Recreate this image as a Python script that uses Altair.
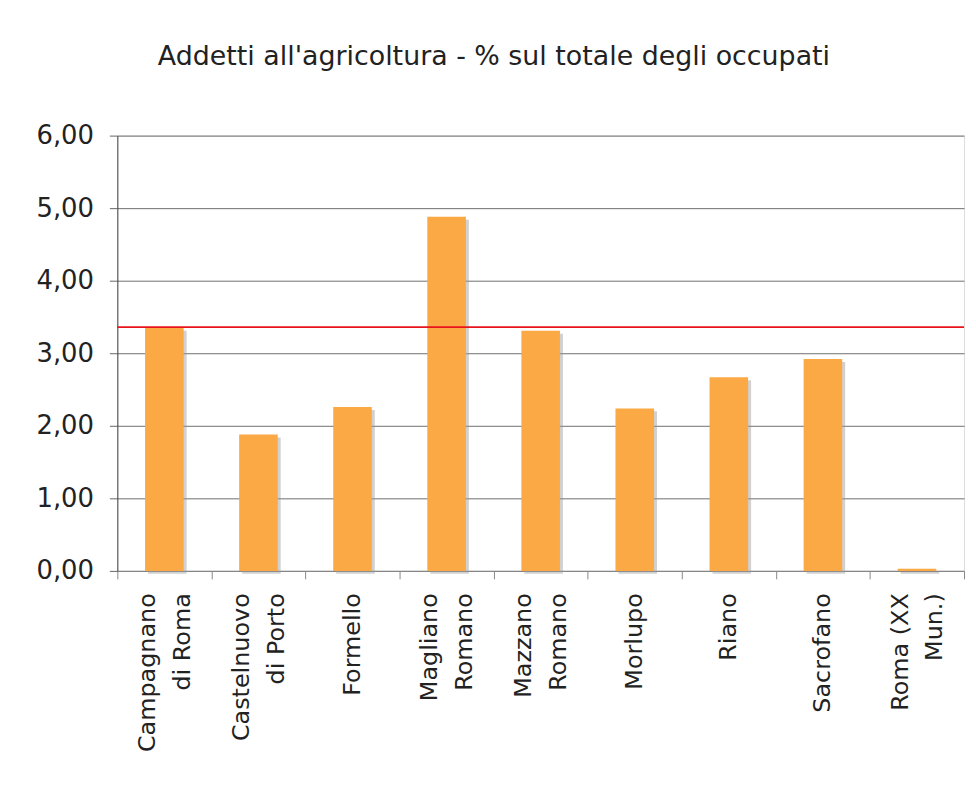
import altair as alt
import pandas as pd

comuni = [
    "Campagnano|di Roma",
    "Castelnuovo|di Porto",
    "Formello",
    "Magliano|Romano",
    "Mazzano|Romano",
    "Morlupo",
    "Riano",
    "Sacrofano",
    "Roma (XX|Mun.)",
]
valori = [3.35, 1.88, 2.26, 4.88, 3.31, 2.24, 2.67, 2.92, 0.03]
media = 3.36
titolo = "Addetti all'agricoltura - % sul totale degli occupati"

df = pd.DataFrame({"comune": comuni, "valore": valori})
df_media = pd.DataFrame({"media": [media]})

FONT = "DejaVu Sans"

x_enc = alt.X(
    "comune:N",
    sort=None,
    title=None,
    scale=alt.Scale(paddingInner=0, paddingOuter=0),
    axis=alt.Axis(
        labelAngle=-90,
        labelAlign="right",
        labelBaseline="middle",
        labelExpr="split(datum.label, '|')",
        labelFontSize=24,
        labelFont=FONT,
        labelColor="#222222",
        labelLineHeight=35,
        labelPadding=14,
        labelOffset={"condition": {"test": "indexof(datum.label, '|') >= 0", "value": -17}, "value": 0},
        tickBand="extent",
        tickSize=8,
        tickColor="#888888",
        domainColor="#888888",
        grid=False,
        labelLimit=400,
    ),
)
y_scale = alt.Scale(domain=[0, 6], nice=False)
y_axis = alt.Axis(
    values=[0, 1, 2, 3, 4, 5, 6],
    labelExpr="replace(format(datum.value, '.2f'), '.', ',')",
    labelFontSize=26,
    labelFont=FONT,
    labelColor="#222222",
    labelPadding=16,
    tickSize=8,
    tickColor="#666666",
    domainColor="#444444",
    gridColor="#6f6f6f",
    grid=True,
)

shadow = alt.Chart(df).mark_bar(
    color="#9a9a9a", opacity=0.45, xOffset=3, yOffset=3, width=alt.RelativeBandSize(0.41)
).encode(
    x=x_enc,
    y=alt.Y("valore:Q", scale=y_scale, axis=y_axis, title=None),
)
bars = alt.Chart(df).mark_bar(color="#FAA944", width=alt.RelativeBandSize(0.41)).encode(
    x=x_enc,
    y=alt.Y("valore:Q", scale=y_scale, axis=y_axis, title=None),
)
rule = alt.Chart(df_media).mark_rule(color="#E8141C", strokeWidth=1.8).encode(
    y=alt.Y("media:Q", scale=y_scale)
)

chart = (
    alt.layer(shadow, bars, rule)
    .properties(
        width=852,
        height=438,
        title=alt.TitleParams(
            text=titolo,
            font=FONT,
            fontSize=27,
            fontWeight="normal",
            color="#222222",
            anchor="middle",
            frame="group",
            dx=-47,
            offset=52,
        ),
        autosize=alt.AutoSizeParams(type="none"),
        padding={"left": 110, "top": 126, "right": 4, "bottom": 205},
    )
    .configure_view(stroke="#999999", strokeWidth=1.5)
    .configure(background="white")
)

chart.save("out.html", embed_options={"renderer": "svg", "actions": False})
